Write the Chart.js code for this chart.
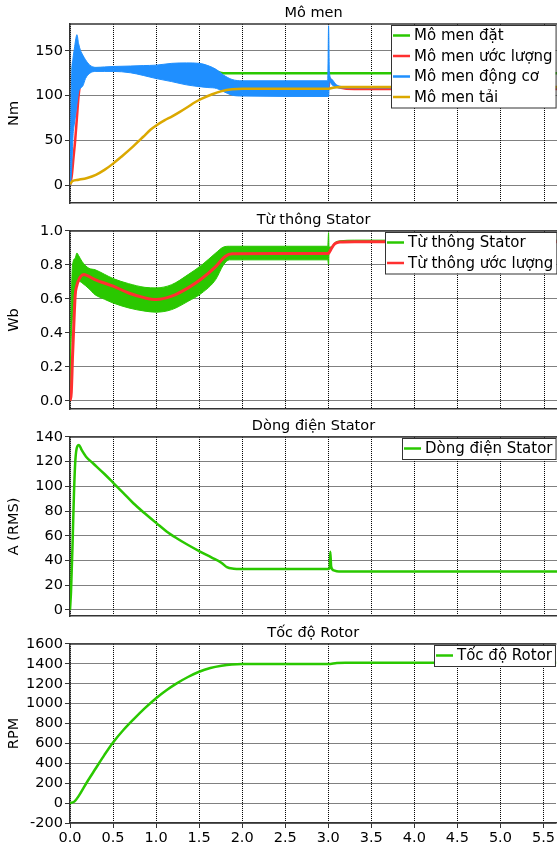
<!DOCTYPE html>
<html>
<head>
<meta charset="utf-8">
<script src="https://cdn.jsdelivr.net/npm/chart.js@4.4.1/dist/chart.umd.min.js"></script>
<style>
  body { margin:0; background:#fff; }
  #wrap { position:relative; width:557px; height:850px; overflow:hidden; }
  #wrap canvas { position:absolute; left:0; }
</style>
</head>
<body>
<div id="wrap">
  <canvas id="c-torque" width="557" height="215" style="top:0px"></canvas>
  <canvas id="c-flux"   width="557" height="214" style="top:207px"></canvas>
  <canvas id="c-cur"    width="557" height="215" style="top:413px"></canvas>
  <canvas id="c-speed"  width="557" height="230" style="top:620px"></canvas>
</div>
<script>
/* ═══ DATA ══════════════════════════════════════════════ */
const T_MAX = 5.65;
const TIME_TICKS = [0, 0.5, 1, 1.5, 2, 2.5, 3, 3.5, 4, 4.5, 5, 5.5];

// Mô men (Nm)
const TQ_TICKS = [0, 50, 100, 150];
const TQ_NAMES = ['Mô men đặt', 'Mô men ước lượng', 'Mô men động cơ', 'Mô men tải'];
const TQ_REF_T = [0.02, 1.6, 1.7, 1.78, 5.65];
const TQ_REF   = [130, 130, 127, 125, 125];
const TQ_EST_T = [0, 0.02, 0.04, 0.06, 0.08, 0.1, 0.13, 0.2, 0.3, 0.5, 0.7, 1.0, 1.3, 1.5, 1.7, 1.8, 1.9, 2.0, 2.99, 3.0, 3.01, 3.04, 3.08, 3.13, 3.3, 5.65];
const TQ_EST   = [0, 10, 30, 50, 75, 100, 118, 127, 129.5, 129.5, 129.5, 126.5, 124, 123, 118, 113, 109, 108, 108, 108, 119, 115, 111, 109, 107.3, 107.3];
// motor torque oscillates fast: kept as upper / lower envelope
const TQ_BAND_T = [0, 0.01, 0.02, 0.035, 0.05, 0.065, 0.08, 0.1, 0.12, 0.15, 0.18, 0.23, 0.3, 0.4, 0.5, 0.7, 0.85, 1.0, 1.18, 1.35, 1.5, 1.6, 1.7, 1.78, 1.88, 2.0, 2.99, 3.0, 3.01, 3.04, 3.08, 3.13, 3.25, 5.65];
const TQ_MOT_HI = [0, 75, 125, 142, 152, 162, 168, 158, 151, 145, 140, 134, 131.5, 132, 132.5, 133, 133.5, 134, 136, 136.5, 136, 133.5, 129, 123, 118, 116.5, 116.5, 178, 125, 118, 113, 110.5, 109.5, 109];
const TQ_MOT_LO = [0, 5, 20, 55, 68, 78, 90, 104, 108, 111, 119, 125, 127, 127, 127, 125.5, 122.5, 119, 115.6, 112, 110, 109, 108, 104.5, 100.5, 99.5, 99, 99, 116, 112, 109.5, 108.5, 108.5, 108.5];
const TQ_LOAD_T = [0, 0.03, 0.1, 0.2, 0.3, 0.4, 0.5, 0.6, 0.73, 0.85, 0.93, 1.0, 1.1, 1.18, 1.27, 1.37, 1.45, 1.53, 1.65, 1.76, 1.88, 2.0, 2.99, 3.05, 3.15, 5.65];
const TQ_LOAD   = [1, 4.5, 6, 8, 11.5, 17, 24, 32, 43, 54, 61.5, 66.5, 72.5, 76.5, 81.5, 87.5, 92.5, 96.5, 101.5, 105, 107, 107.5, 107.5, 108.8, 109.5, 109.5];

// Từ thông (Wb)
const FX_TICKS = [0, 0.2, 0.4, 0.6, 0.8, 1.0];
const FX_NAMES = ['Từ thông Stator', 'Từ thông ước lượng'];
const FX_BAND_T = [0, 0.01, 0.03, 0.06, 0.08, 0.1, 0.14, 0.22, 0.29, 0.4, 0.5, 0.68, 0.87, 1.0, 1.18, 1.37, 1.53, 1.69, 1.78, 1.85, 2.99, 3.0, 3.005, 3.036, 3.074, 3.13, 3.3, 5.65];
const FX_HI = [0, 0.45, 0.8, 0.84, 0.87, 0.855, 0.82, 0.78, 0.772, 0.745, 0.72, 0.69, 0.668, 0.665, 0.684, 0.743, 0.80, 0.87, 0.905, 0.91, 0.91, 0.99, 0.905, 0.908, 0.932, 0.942, 0.946, 0.946];
const FX_LO = [0, 0.3, 0.5, 0.66, 0.69, 0.705, 0.694, 0.66, 0.625, 0.598, 0.576, 0.547, 0.528, 0.522, 0.537, 0.586, 0.635, 0.714, 0.80, 0.83, 0.83, 0.8, 0.86, 0.895, 0.925, 0.935, 0.94, 0.94];
const FX_EST_T = [0, 0.015, 0.03, 0.043, 0.06, 0.08, 0.1, 0.12, 0.16, 0.2, 0.29, 0.5, 0.68, 0.87, 1.0, 1.18, 1.37, 1.53, 1.69, 1.8, 1.88, 2.99, 3.005, 3.036, 3.074, 3.13, 3.3, 5.65];
const FX_EST   = [0, 0.05, 0.27, 0.43, 0.62, 0.68, 0.71, 0.73, 0.743, 0.737, 0.714, 0.675, 0.635, 0.606, 0.596, 0.616, 0.665, 0.72, 0.79, 0.85, 0.866, 0.868, 0.872, 0.9, 0.925, 0.935, 0.937, 0.937];

// Dòng điện (A RMS)
const CUR_TICKS = [0, 20, 40, 60, 80, 100, 120, 140];
const CUR_NAMES = ['Dòng điện Stator'];
const CUR_T = [0, 0.012, 0.03, 0.046, 0.062, 0.085, 0.104, 0.135, 0.186, 0.27, 0.4, 0.507, 0.62, 0.735, 0.87, 1.006, 1.12, 1.238, 1.37, 1.508, 1.64, 1.76, 1.82, 1.9, 1.97, 2.99, 3.012, 3.02, 3.03, 3.06, 3.12, 5.65];
const CUR   = [0, 15, 54, 94, 121, 132.5, 133.5, 129.5, 124, 118.5, 110, 102.5, 94.5, 86.3, 78, 70, 63.5, 58, 52.5, 47.2, 42.5, 38, 34.5, 33.3, 33, 33, 33.5, 47, 35, 32, 31, 31];

// Tốc độ (RPM)
const SPD_TICKS = [-200, 0, 200, 400, 600, 800, 1000, 1200, 1400, 1600];
const SPD_NAMES = ['Tốc độ Rotor'];
const SPD_T = [0, 0.05, 0.1, 0.2, 0.3, 0.4, 0.5, 0.62, 0.735, 0.87, 1.0, 1.12, 1.24, 1.37, 1.5, 1.63, 1.76, 1.88, 2.0, 3.0, 3.1, 3.2, 5.65];
const SPD   = [0, 15, 70, 215, 350, 485, 610, 735, 840, 955, 1055, 1135, 1204, 1268, 1321, 1358, 1381, 1394, 1398, 1398, 1408, 1410, 1411];

/* ═══ STYLE ═════════════════════════════════════════════ */
const GREEN = '#2ac800', RED = '#ff3030', BLUE = '#1f8fff', GOLD = '#dba800';
const FONT = "'DejaVu Sans', Verdana, sans-serif";
Chart.defaults.font.family = FONT;
Chart.defaults.font.size = 14.5;
Chart.defaults.color = '#000';

function pts(t, v) { return t.map((x, i) => ({x, y: v[i]})); }

function line(label, t, v, color, extra) {
  return Object.assign({label, data: pts(t, v), borderColor: color, backgroundColor: color,
    borderWidth: 2.5, pointRadius: 0, fill: false, cubicInterpolationMode: 'monotone'}, extra || {});
}

// boxed legend, top-right inside plot
function legendBox(names, colors) {
  return {
    id: 'legendBox',
    afterDraw(chart) {
      const {ctx, chartArea: a} = chart;
      ctx.save();
      ctx.font = '15px ' + FONT;
      const tw = Math.max(...names.map(n => ctx.measureText(n).width));
      const rowH = 20.5, w = 2 + 17 + 4 + tw + 3, h = names.length * rowH + 0.5;
      const x = Math.round(a.right - 1 - w), y = Math.round(a.top + 1.5);
      ctx.fillStyle = '#fff'; ctx.fillRect(x, y, w, h);
      ctx.strokeStyle = '#333'; ctx.lineWidth = 1; ctx.strokeRect(x + 0.5, y + 0.5, w, h);
      names.forEach((n, i) => {
        const cy = y + 10.5 + i * rowH;
        ctx.strokeStyle = colors[i]; ctx.lineWidth = 2.5;
        ctx.beginPath(); ctx.moveTo(x + 2, cy); ctx.lineTo(x + 19, cy); ctx.stroke();
        ctx.fillStyle = '#000'; ctx.textBaseline = 'middle';
        ctx.fillText(n, x + 23, cy + 1);
      });
      ctx.restore();
    }
  };
}

const topFrame = {
  id: 'topFrame',
  afterDatasetsDraw(chart) {
    const {ctx, chartArea: a} = chart;
    ctx.save(); ctx.strokeStyle = '#333'; ctx.lineWidth = 1.5;
    ctx.beginPath(); ctx.moveTo(a.left, a.top); ctx.lineTo(a.right, a.top); ctx.stroke();
    ctx.restore();
  }
};

/* ═══ PANEL ═════════════════════════════════════════════ */
function panel(id, o) {
  const showX = !!o.showX;
  return new Chart(document.getElementById(id), {
    type: 'line',
    data: {datasets: o.datasets},
    options: {
      responsive: false, animation: false, events: [],
      layout: {padding: {top: 0, left: 0, right: 0, bottom: showX ? 0 : 12}},
      plugins: {
        legend: {display: false}, tooltip: {enabled: false},
        title: {display: true, text: o.title, fullSize: false, color: '#000',
          font: {size: 14.5, weight: 'normal', lineHeight: 1.17}, padding: {top: 5, bottom: 2}}
      },
      scales: {
        x: {type: 'linear', min: 0, max: T_MAX,
          afterBuildTicks: s => { s.ticks = TIME_TICKS.map(v => ({value: v})); },
          afterFit: s => { s.height = showX ? 27 : 0; },
          ticks: {display: showX, autoSkip: false, maxRotation: 0, padding: 2, callback: v => v.toFixed(1)},
          grid: {color: '#000', tickColor: '#333', tickLength: 5, drawTicks: showX},
          border: {color: '#333', width: 1.5, dash: [1, 1]}},
        y: {type: 'linear', min: o.yMin, max: o.yMax,
          afterBuildTicks: s => { s.ticks = o.yTicks.map(v => ({value: v})); },
          afterFit: s => { s.width = 70; },
          title: {display: true, text: o.yTitle, color: '#000', font: {size: 14.5}, padding: {top: 6, bottom: 0}},
          ticks: {autoSkip: false, padding: 2, callback: o.yFmt || (v => String(v))},
          grid: {color: '#000', tickColor: '#333', tickLength: 5},
          border: {color: '#333', width: 1.5, dash: [1, 1]}}
      }
    },
    plugins: [topFrame, legendBox(o.names, o.colors)]
  });
}

// first dataset is drawn on top
panel('c-torque', {
  title: 'Mô men', yTitle: 'Nm', yMin: -20, yMax: 180, yTicks: TQ_TICKS,
  names: TQ_NAMES, colors: [GREEN, RED, BLUE, GOLD],
  datasets: [
    line(TQ_NAMES[3], TQ_LOAD_T, TQ_LOAD, GOLD),
    line(TQ_NAMES[2], TQ_BAND_T, TQ_MOT_HI, BLUE, {borderWidth: 1, fill: '+1'}),
    line(TQ_NAMES[2] + ' (min)', TQ_BAND_T, TQ_MOT_LO, BLUE, {borderWidth: 1}),
    line(TQ_NAMES[1], TQ_EST_T, TQ_EST, RED),
    line(TQ_NAMES[0], TQ_REF_T, TQ_REF, GREEN)
  ]
});

panel('c-flux', {
  title: 'Từ thông Stator', yTitle: 'Wb', yMin: -0.048, yMax: 1.0, yTicks: FX_TICKS,
  yFmt: v => v.toFixed(1),
  names: FX_NAMES, colors: [GREEN, RED],
  datasets: [
    line(FX_NAMES[1], FX_EST_T, FX_EST, RED, {borderWidth: 3}),
    line(FX_NAMES[0], FX_BAND_T, FX_HI, GREEN, {borderWidth: 1, fill: '+1'}),
    line(FX_NAMES[0] + ' (min)', FX_BAND_T, FX_LO, GREEN, {borderWidth: 1})
  ]
});

panel('c-cur', {
  title: 'Dòng điện Stator', yTitle: 'A (RMS)', yMin: -5, yMax: 140, yTicks: CUR_TICKS,
  names: CUR_NAMES, colors: [GREEN],
  datasets: [line(CUR_NAMES[0], CUR_T, CUR, GREEN)]
});

panel('c-speed', {
  title: 'Tốc độ Rotor', yTitle: 'RPM', yMin: -200, yMax: 1600, yTicks: SPD_TICKS,
  names: SPD_NAMES, colors: [GREEN], showX: true,
  datasets: [line(SPD_NAMES[0], SPD_T, SPD, GREEN)]
});
</script>
</body>
</html>
